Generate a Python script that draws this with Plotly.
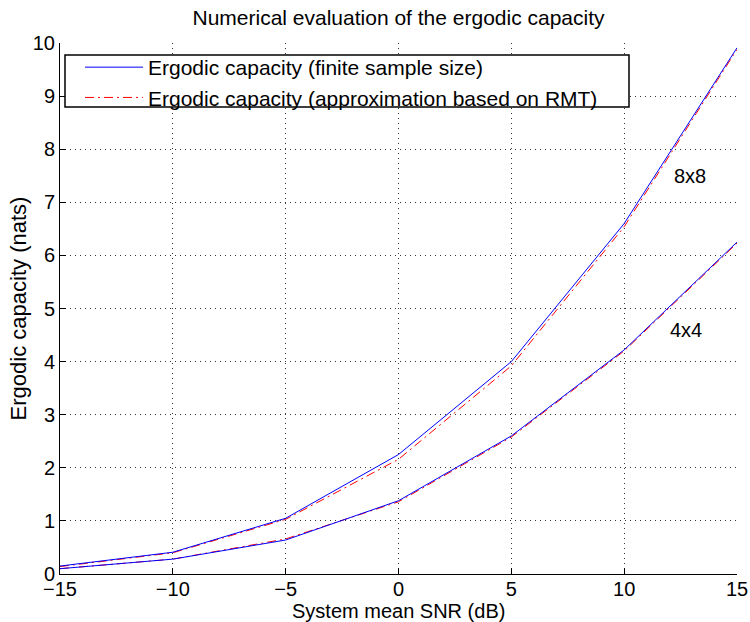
import plotly.graph_objects as go

# System mean SNR (dB)
snr_db = [-15, -10, -5, 0, 5, 10, 15]

# Ergodic capacity (nats), finite sample size
cap_8x8_finite = [0.15, 0.41, 1.05, 2.25, 4.00, 6.60, 9.91]
cap_4x4_finite = [0.10, 0.28, 0.64, 1.38, 2.60, 4.22, 6.25]

# Ergodic capacity (nats), RMT approximation
cap_8x8_rmt = [0.14, 0.40, 1.03, 2.16, 3.92, 6.54, 9.88]
cap_4x4_rmt = [0.10, 0.28, 0.66, 1.36, 2.58, 4.20, 6.23]

x_ticks = [-15, -10, -5, 0, 5, 10, 15]
y_ticks = list(range(0, 11))

FONT = "Liberation Sans, Arial, Helvetica, sans-serif"
BLUE = "#0000ff"
RED = "#ff0000"
GRID = "#333333"

# plot area in pixels
L, R, T, B = 60, 13, 43, 48
W, H = 750, 622
PW, PH = W - L - R, H - T - B

def px_x(px):
    return (px - L) / PW

def px_y(py):
    return (H - B - py) / PH

fig = go.Figure()

# RMT approximation (dash-dot red)
for i, ys in enumerate([cap_8x8_rmt, cap_4x4_rmt]):
    fig.add_trace(go.Scatter(
        x=snr_db, y=ys, mode="lines",
        line=dict(color=RED, width=1, dash="9px,4px,2px,4px"),
        name="Ergodic capacity (approximation based on RMT)",
        showlegend=(i == 0), legendrank=2,
    ))

# Finite sample size (solid blue)
for i, ys in enumerate([cap_8x8_finite, cap_4x4_finite]):
    fig.add_trace(go.Scatter(
        x=snr_db, y=ys, mode="lines",
        line=dict(color=BLUE, width=1),
        name="Ergodic capacity (finite sample size)",
        showlegend=(i == 0), legendrank=1,
    ))

# Curve labels
fig.add_annotation(x=12.9, y=7.5, text="8x8", showarrow=False,
                   font=dict(family=FONT, size=20, color="black"))
fig.add_annotation(x=12.75, y=4.6, text="4x4", showarrow=False,
                   font=dict(family=FONT, size=20, color="black"))

# x-axis title
fig.add_annotation(xref="paper", yref="paper",
                   x=px_x(398), y=px_y(623), xanchor="center", yanchor="bottom",
                   text="System mean SNR (dB)", showarrow=False, borderpad=0,
                   font=dict(family=FONT, size=20, color="black"))

# Legend frame
fig.add_shape(type="rect", xref="paper", yref="paper",
              x0=px_x(65), x1=px_x(629), y0=px_y(107), y1=px_y(55),
              line=dict(color="black", width=1.5), fillcolor="white",
              layer="above")

fig.update_layout(
    width=W, height=H,
    margin=dict(l=L, r=R, t=T, b=B),
    paper_bgcolor="white", plot_bgcolor="white",
    font=dict(family=FONT, size=21, color="black"),
    title=dict(text="Numerical evaluation of the ergodic capacity",
               x=(60 + 737) / 2 / W, xanchor="center",
               y=1 - 18 / H, yanchor="middle",
               font=dict(family=FONT, size=21, color="black")),
    showlegend=True,
    legend=dict(x=px_x(80), y=px_y(47),
                xanchor="left", yanchor="top",
                bgcolor="rgba(0,0,0,0)", borderwidth=0,
                font=dict(family=FONT, size=21, color="black"),
                traceorder="normal", itemwidth=58),
)

fig.update_xaxes(
    range=[-15, 15], tickvals=x_ticks,
    ticktext=["\u221215", "\u221210", "\u22125", "0", "5", "10", "15"],
    showgrid=True, gridcolor=GRID, griddash="1px,4px", gridwidth=1,
    showline=True, linecolor="black", linewidth=1, mirror=False,
    ticks="inside", ticklen=6, tickcolor="black",
    tickfont=dict(family=FONT, size=20), ticklabelstandoff=-3,
    zeroline=False, automargin=False,
)
fig.update_yaxes(
    range=[0, 10], tickvals=y_ticks,
    showgrid=True, gridcolor=GRID, griddash="1px,4px", gridwidth=1,
    showline=True, linecolor="black", linewidth=1, mirror=False,
    ticks="inside", ticklen=6, tickcolor="black",
    tickfont=dict(family=FONT, size=20),
    zeroline=False, automargin=False,
    title=dict(text="Ergodic capacity (nats)", standoff=0,
               font=dict(family=FONT, size=22)),
)

fig.write_html("out.html")
